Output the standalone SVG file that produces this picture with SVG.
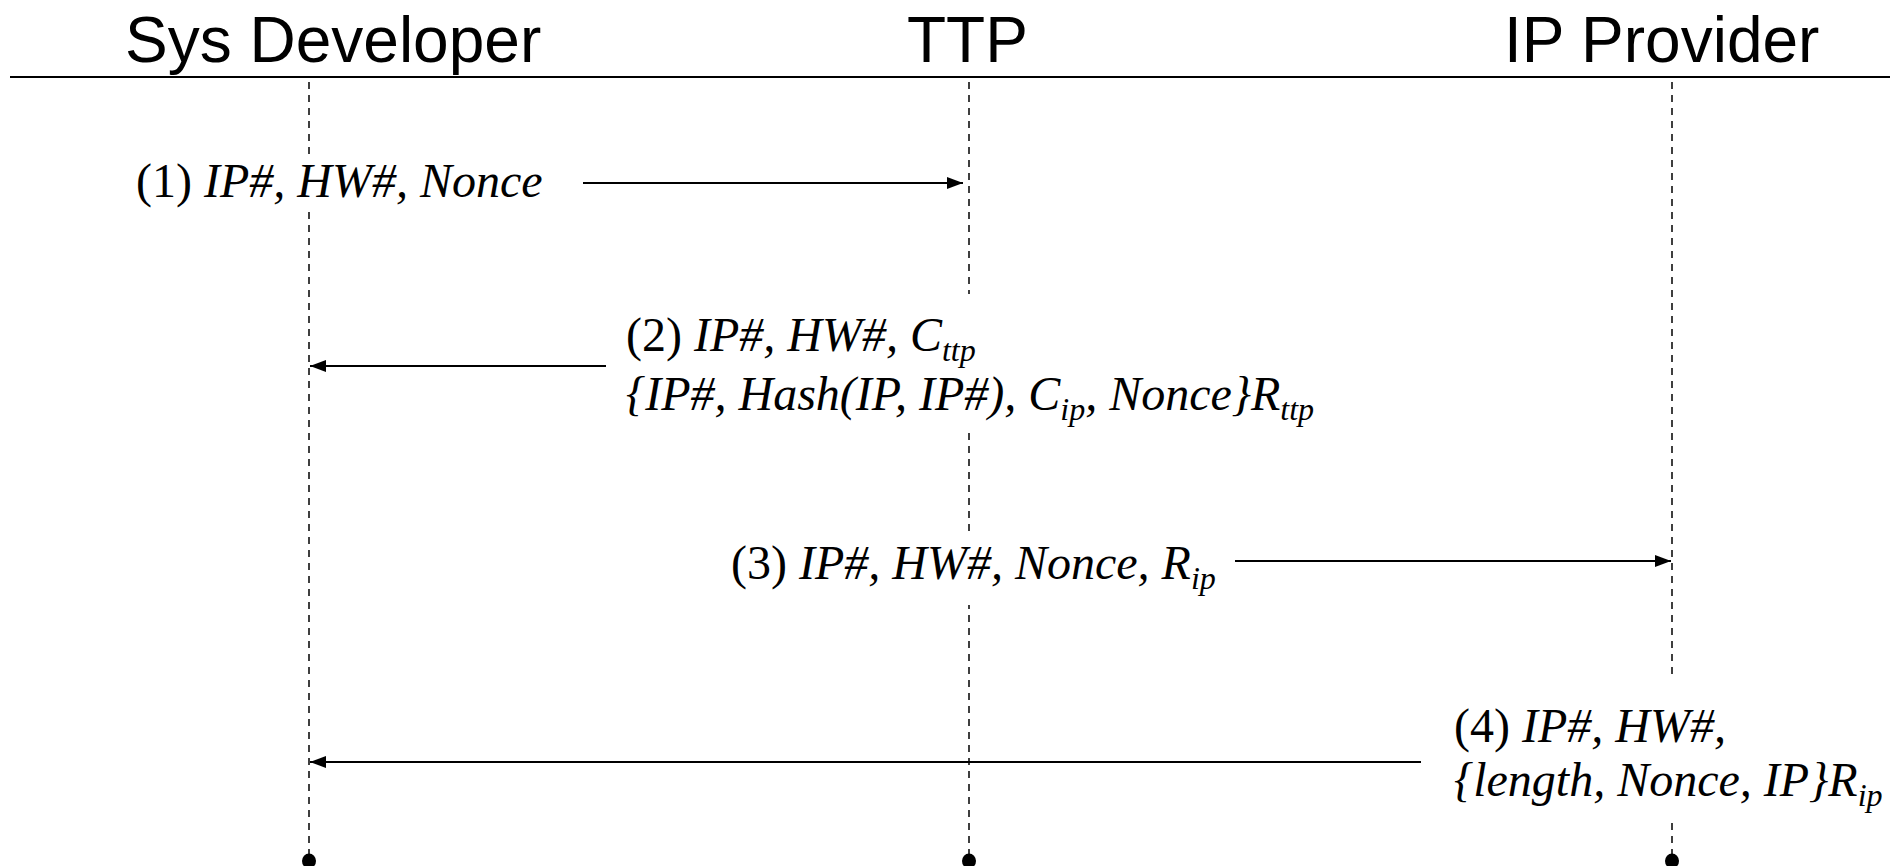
<svg xmlns="http://www.w3.org/2000/svg" width="1900" height="866" viewBox="0 0 1900 866">
  <style>
    .head { font-family: "Liberation Sans", Arial, sans-serif; font-size: 64px; fill: #000; }
    .msg { font-family: "Liberation Serif", "Times New Roman", serif; font-size: 48px; fill: #000; }
    .it { font-style: italic; }
    .sub { font-style: italic; font-size: 32px; }
    .life { stroke: #000; stroke-width: 1.5; stroke-dasharray: 7 6; fill: none; }
    .arrow { stroke: #000; stroke-width: 2; fill: none; marker-end: url(#head); }
    .mask { fill: #fff; stroke: none; }
  </style>
  <defs>
    <marker id="head" viewBox="0 0 16 12" refX="16" refY="6" markerWidth="16" markerHeight="12" markerUnits="userSpaceOnUse" orient="auto">
      <path d="M0,0 L16,6 L0,12 Z" fill="#000"/>
    </marker>
  </defs>
  <rect width="1900" height="866" fill="#fff"/>

  <!-- participant headers with their lifelines -->
  <g id="sys-developer">
    <text class="head" x="125" y="62">Sys Developer</text>
    <line class="life" x1="309" y1="82" x2="309" y2="855"/>
    <ellipse cx="309" cy="861" rx="7" ry="7.5" fill="#000"/>
  </g>
  <g id="ttp">
    <text class="head" x="907" y="62">TTP</text>
    <line class="life" x1="969" y1="82" x2="969" y2="855"/>
    <ellipse cx="969" cy="861" rx="7" ry="7.5" fill="#000"/>
  </g>
  <g id="ip-provider">
    <text class="head" x="1504" y="62">IP Provider</text>
    <line class="life" x1="1672" y1="82" x2="1672" y2="855"/>
    <ellipse cx="1672" cy="861" rx="7" ry="7.5" fill="#000"/>
  </g>
  <line x1="10" y1="77" x2="1890" y2="77" stroke="#000" stroke-width="2"/>

  <!-- message labels (white boxes hide the lifelines behind them) -->
  <g id="msg1">
    <rect class="mask" x="125" y="156" width="430" height="52"/>
    <text class="msg" x="136" y="197">(1) <tspan class="it">IP#, HW#, Nonce</tspan></text>
  </g>
  <g id="msg2">
    <rect class="mask" x="618" y="294" width="730" height="134"/>
    <text class="msg" x="626" y="351">(2) <tspan class="it">IP#, HW#, C</tspan><tspan class="sub" dy="10">ttp</tspan></text>
    <text class="msg it" x="626" y="410">{IP#, Hash(IP, IP#), C<tspan class="sub" dy="10">ip</tspan><tspan dy="-10">, Nonce}R</tspan><tspan class="sub" dy="10">ttp</tspan></text>
  </g>
  <g id="msg3">
    <rect class="mask" x="725" y="535" width="505" height="70"/>
    <text class="msg" x="731" y="579">(3) <tspan class="it">IP#, HW#, Nonce, R</tspan><tspan class="sub" dy="10">ip</tspan></text>
  </g>
  <g id="msg4">
    <rect class="mask" x="1440" y="680" width="460" height="138"/>
    <text class="msg" x="1454" y="742">(4) <tspan class="it">IP#, HW#,</tspan></text>
    <text class="msg it" x="1454" y="796">{length, Nonce, IP}R<tspan class="sub" dy="10">ip</tspan></text>
  </g>

  <!-- connectors -->
  <g id="connectors">
    <line class="arrow" x1="583" y1="183" x2="963" y2="183"/>
    <line class="arrow" x1="606" y1="366" x2="310" y2="366"/>
    <line class="arrow" x1="1235" y1="561" x2="1671" y2="561"/>
    <line class="arrow" x1="1421" y1="762" x2="310" y2="762"/>
  </g>
</svg>
